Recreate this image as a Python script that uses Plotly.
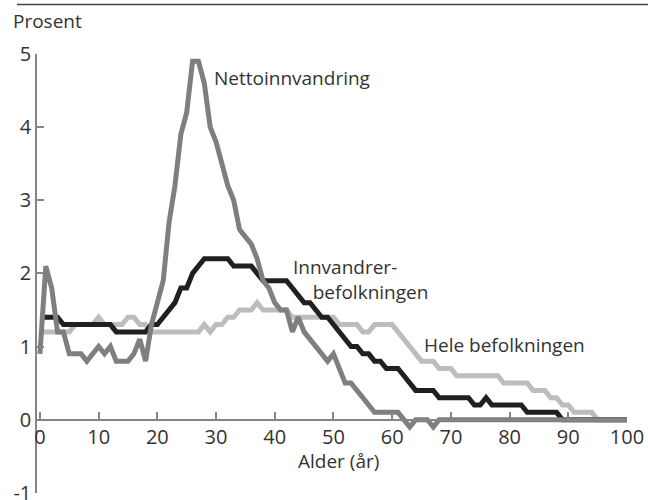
import plotly.graph_objects as go

# age 0..100
ages = list(range(0, 101))

netto = [0.9, 2.1, 1.8, 1.2, 1.2, 0.9, 0.9, 0.9, 0.8, 0.9,
         1.0, 0.9, 1.0, 0.8, 0.8, 0.8, 0.9, 1.1, 0.8, 1.3,
         1.6, 1.9, 2.7, 3.2, 3.9, 4.2, 4.9, 4.9, 4.6, 4.0,
         3.8, 3.5, 3.2, 3.0, 2.6, 2.5, 2.4, 2.2, 1.9, 1.8,
         1.6, 1.5, 1.5, 1.2, 1.4, 1.2, 1.1, 1.0, 0.9, 0.8,
         0.9, 0.7, 0.5, 0.5, 0.4, 0.3, 0.2, 0.1, 0.1, 0.1,
         0.1, 0.1, 0.0, -0.1, 0.0, 0.0, 0.0, -0.1, 0.0, 0.0,
         0.0, 0.0, 0.0, 0.0, 0.0, 0.0, 0.0, 0.0, 0.0, 0.0,
         0.0, 0.0, 0.0, 0.0, 0.0, 0.0, 0.0, 0.0, 0.0, 0.0,
         0.0, 0.0, 0.0, 0.0, 0.0, 0.0, 0.0, 0.0, 0.0, 0.0,
         0.0]

innvandrer = [1.4, 1.4, 1.4, 1.4, 1.3, 1.3, 1.3, 1.3, 1.3, 1.3,
              1.3, 1.3, 1.3, 1.2, 1.2, 1.2, 1.2, 1.2, 1.2, 1.3,
              1.3, 1.4, 1.5, 1.6, 1.8, 1.8, 2.0, 2.1, 2.2, 2.2,
              2.2, 2.2, 2.2, 2.1, 2.1, 2.1, 2.1, 2.0, 1.9, 1.9,
              1.9, 1.9, 1.9, 1.8, 1.7, 1.6, 1.6, 1.5, 1.4, 1.4,
              1.3, 1.2, 1.1, 1.0, 1.0, 0.9, 0.9, 0.8, 0.8, 0.7,
              0.7, 0.7, 0.6, 0.5, 0.4, 0.4, 0.4, 0.4, 0.3, 0.3,
              0.3, 0.3, 0.3, 0.3, 0.2, 0.2, 0.3, 0.2, 0.2, 0.2,
              0.2, 0.2, 0.2, 0.1, 0.1, 0.1, 0.1, 0.1, 0.1, 0.0,
              0.0, 0.0, 0.0, 0.0, 0.0, 0.0, 0.0, 0.0, 0.0, 0.0,
              0.0]

hele = [1.2, 1.2, 1.2, 1.2, 1.2, 1.2, 1.3, 1.3, 1.3, 1.3,
        1.4, 1.3, 1.3, 1.3, 1.3, 1.4, 1.4, 1.3, 1.3, 1.2,
        1.2, 1.2, 1.2, 1.2, 1.2, 1.2, 1.2, 1.2, 1.3, 1.2,
        1.3, 1.3, 1.4, 1.4, 1.5, 1.5, 1.5, 1.6, 1.5, 1.5,
        1.5, 1.5, 1.5, 1.4, 1.4, 1.4, 1.4, 1.4, 1.4, 1.4,
        1.4, 1.3, 1.3, 1.3, 1.3, 1.2, 1.2, 1.3, 1.3, 1.3,
        1.3, 1.2, 1.1, 1.0, 0.9, 0.8, 0.8, 0.8, 0.7, 0.7,
        0.7, 0.6, 0.6, 0.6, 0.6, 0.6, 0.6, 0.6, 0.6, 0.5,
        0.5, 0.5, 0.5, 0.5, 0.4, 0.4, 0.4, 0.3, 0.3, 0.2,
        0.2, 0.1, 0.1, 0.1, 0.1, 0.0, 0.0, 0.0, 0.0, 0.0,
        0.0]

x_ticks = list(range(0, 101, 10))
y_ticks = [-1, 0, 1, 2, 3, 4, 5]
y_ticktext = ["-1", "0", "1", "2", "3", "4", "5"]

FONT = "Open Sans"
TXT = "#333333"
AXIS = "#858585"

# -------------------------------------------
# 1. Lines (light gray at the bottom, netto on top)
# -------------------------------------------
fig = go.Figure()
fig.add_trace(go.Scatter(x=ages, y=hele, mode="lines",
                         line=dict(color="#bdbdbd", width=5),
                         name="Hele befolkningen"))
fig.add_trace(go.Scatter(x=ages, y=innvandrer, mode="lines",
                         line=dict(color="#231f20", width=5),
                         name="Innvandrerbefolkningen"))
fig.add_trace(go.Scatter(x=ages, y=netto, mode="lines",
                         line=dict(color="#7f7f80", width=5),
                         name="Nettoinnvandring"))

# -------------------------------------------
# 2. Layout: x axis sits on y=0
# -------------------------------------------
fig.update_layout(
    template="none",
    width=648,
    height=500,
    showlegend=False,
    paper_bgcolor="white",
    plot_bgcolor="white",
    margin=dict(l=37, r=21, t=54, b=7),
    font=dict(family=FONT, color=TXT, size=19),
    xaxis=dict(
        range=[-0.5, 100],
        tickvals=x_ticks,
        ticks="inside",
        ticklen=7,
        tickcolor=AXIS,
        tickwidth=1.5,
        showline=True,
        linecolor=AXIS,
        linewidth=1.5,
        showgrid=False,
        zeroline=False,
        anchor="free",
        position=1.003 / 6.003,
        tickfont=dict(size=20, color=TXT),
        ticklabeloverflow="allow",
        automargin=False,
    ),
    yaxis=dict(
        range=[-1.003, 5],
        tickvals=y_ticks,
        ticktext=y_ticktext,
        ticks="inside",
        ticklen=7,
        tickcolor=AXIS,
        tickwidth=1.5,
        showline=True,
        linecolor=AXIS,
        linewidth=1.5,
        showgrid=False,
        zeroline=False,
        tickfont=dict(size=20, color=TXT),
        ticklabeloverflow="allow",
        automargin=False,
    ),
)

# -------------------------------------------
# 3. Labels
# -------------------------------------------
labels = [
    ("Nettoinnvandring", 29.3, 4.67),
    ("Innvandrer-<br>&nbsp;&nbsp;&nbsp;&nbsp;befolkningen", 42.8, 1.91),
    ("Hele befolkningen", 65.1, 1.02),
]
for text, lx, ly in labels:
    fig.add_annotation(x=lx, y=ly, xref="x", yref="y", text=text,
                       showarrow=False, xanchor="left", yanchor="middle",
                       align="left",
                       font=dict(size=19, color=TXT))

fig.add_annotation(x=50.9, y=-0.57, xref="x", yref="y", text="Alder (år)",
                   showarrow=False, xanchor="center", yanchor="middle",
                   font=dict(size=19, color=TXT))
fig.add_annotation(x=-0.044, y=1.075, xref="paper", yref="paper", text="Prosent",
                   showarrow=False, xanchor="left", yanchor="middle",
                   font=dict(size=19, color=TXT))

fig.add_shape(type="line", xref="paper", yref="paper",
              x0=-0.034, x1=1.04, y0=1.113, y1=1.113,
              line=dict(color="#444444", width=1.5))

# the page body has a default 8px margin; drop it so the figure sits at 0,0
fig.write_html("out.html", config={"displayModeBar": False},
               post_script="document.body.style.margin='0';")
